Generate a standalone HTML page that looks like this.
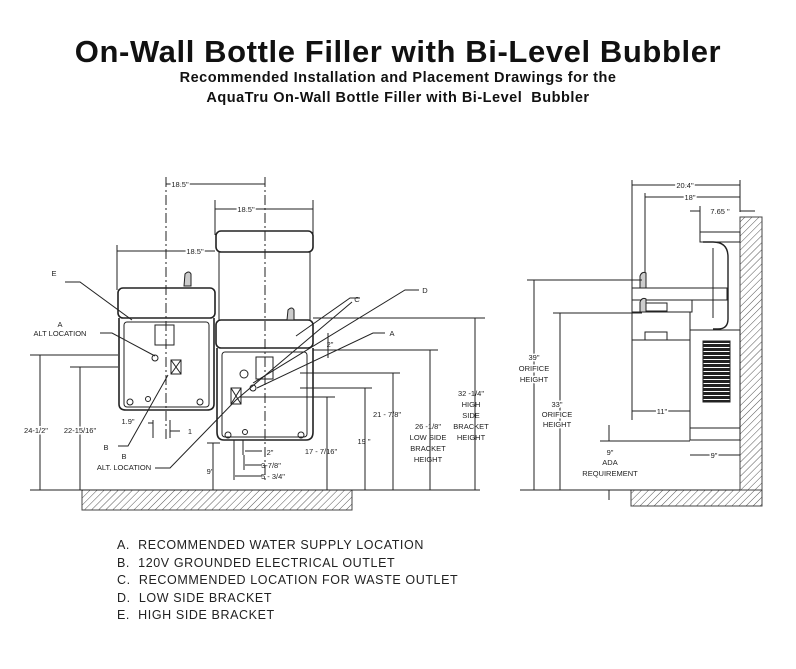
<!DOCTYPE html>
<html><head><meta charset="utf-8"><style>
html,body{margin:0;padding:0;background:#fff;}
body{width:796px;height:669px;overflow:hidden;position:relative;font-family:"Liberation Sans",sans-serif;}
.t{position:absolute;left:0;width:796px;text-align:center;font-weight:bold;color:#111;}
svg{position:absolute;left:0;top:0;}
svg text{font-family:"Liberation Sans",sans-serif;fill:#222;}
</style></head><body>
<div class="t" style="top:34px;font-size:31px;letter-spacing:0.6px;">On-Wall Bottle Filler with Bi-Level Bubbler</div>
<div class="t" style="top:70px;font-size:14.5px;letter-spacing:0.5px;">Recommended Installation and Placement Drawings for the</div>
<div class="t" style="top:90px;font-size:14.5px;letter-spacing:0.5px;">AquaTru On-Wall Bottle Filler with Bi-Level&nbsp; Bubbler</div>
<svg width="796" height="669" viewBox="0 0 796 669">
<defs>
<pattern id="h" width="5" height="5" patternUnits="userSpaceOnUse" patternTransform="rotate(45)">
<line x1="0" y1="0" x2="0" y2="5" stroke="#555" stroke-width="1"/></pattern>
<pattern id="g" width="4" height="4" patternUnits="userSpaceOnUse">
<rect width="4" height="3" fill="#222"/></pattern>
</defs>
<g stroke="#222" fill="none" stroke-width="1">
<rect x="82" y="490" width="270" height="20" fill="url(#h)" stroke="#444"/>
<line x1="30" y1="490" x2="480" y2="490"/>
<line x1="166" y1="177" x2="166" y2="440" stroke-dasharray="10,3,2,3"/>
<line x1="265" y1="177" x2="265" y2="482" stroke-dasharray="10,3,2,3"/>
<line x1="215" y1="200" x2="215" y2="235"/>
<line x1="313" y1="200" x2="313" y2="235"/>
<line x1="117" y1="245" x2="117" y2="290"/>
<line x1="166" y1="184" x2="265" y2="184"/>
<line x1="215" y1="209" x2="313" y2="209"/>
<line x1="117" y1="251" x2="215" y2="251"/>
<rect x="118" y="288" width="97" height="30" rx="5" stroke-width="1.6"/>
<path d="M119 318 V404 Q119 410 126 410 H207 Q214 410 214 404 V318" stroke-width="1.6"/>
<rect x="124" y="322" width="85" height="85" rx="3"/>
<rect x="155" y="325" width="19" height="20"/>
<path d="M185 274 q4-4 6 0 v12 h-7z" fill="#ccc"/>
<rect x="171" y="360" width="10" height="14"/><path d="M171 360 l10 14 M181 360 l-10 14"/>
<circle cx="155" cy="358" r="3"/>
<circle cx="130" cy="402" r="3"/><circle cx="200" cy="402" r="3"/><circle cx="148" cy="399" r="2.5"/>
<rect x="216" y="231" width="97" height="21" rx="5" stroke-width="1.6"/>
<line x1="219" y1="252" x2="219" y2="320"/><line x1="310" y1="252" x2="310" y2="320"/>
<rect x="216" y="320" width="97" height="28" rx="5" stroke-width="1.6"/>
<path d="M217 348 V432 Q217 440 224 440 H306 Q313 440 313 432 V348" stroke-width="1.6"/>
<rect x="222" y="352" width="85" height="85" rx="3"/>
<rect x="256" y="357" width="17" height="22"/>
<path d="M288 310 q4-4 6 0 v10 h-7z" fill="#ccc"/>
<rect x="231" y="388" width="10" height="16"/><path d="M231 388 l10 16 M241 388 l-10 16"/>
<circle cx="244" cy="374" r="4"/><circle cx="253" cy="388" r="3"/>
<circle cx="228" cy="435" r="3"/><circle cx="301" cy="435" r="3"/><circle cx="245" cy="432" r="2.5"/>
<line x1="313" y1="318" x2="485" y2="318"/>
<line x1="313" y1="350" x2="438" y2="350"/>
<line x1="300" y1="373" x2="400" y2="373"/>
<line x1="300" y1="388" x2="372" y2="388"/>
<line x1="240" y1="397" x2="335" y2="397"/>
<line x1="207" y1="443" x2="220" y2="443"/>
<line x1="30" y1="355" x2="118" y2="355"/>
<line x1="70" y1="367" x2="118" y2="367"/>
<line x1="475" y1="318" x2="475" y2="490"/>
<line x1="430" y1="350" x2="430" y2="490"/>
<line x1="393" y1="373" x2="393" y2="490"/>
<line x1="365" y1="388" x2="365" y2="490"/>
<line x1="327" y1="397" x2="327" y2="490"/>
<line x1="213" y1="443" x2="213" y2="490"/>
<line x1="328" y1="333" x2="328" y2="358"/>
<line x1="40" y1="355" x2="40" y2="490"/>
<line x1="80" y1="367" x2="80" y2="490"/>
<line x1="153" y1="420" x2="153" y2="438"/><line x1="170" y1="420" x2="170" y2="438"/>
<line x1="148" y1="423" x2="153" y2="423"/><line x1="170" y1="431" x2="180" y2="431"/>
<line x1="243" y1="440" x2="243" y2="455"/><line x1="245" y1="451" x2="262" y2="451"/>
<line x1="244" y1="455" x2="244" y2="470"/><line x1="245" y1="465" x2="262" y2="465"/>
<line x1="234" y1="440" x2="234" y2="480"/><line x1="235" y1="476" x2="262" y2="476"/>
<polyline points="65,282 80,282 132,320"/>
<polyline points="100,333 112,333 155,356"/>
<polyline points="118,446 128,446 168,375"/>
<polyline points="155,468 170,468 236,400 352,302"/>
<polyline points="360,298 350,298 296,336"/>
<polyline points="419,290 405,290 253,383"/>
<polyline points="385,333 373,333 257,388"/>
</g>
<g font-size="7.5" text-anchor="middle">
<text x="180" y="187" stroke="#fff" stroke-width="3" paint-order="stroke">18.5"</text>
<text x="246" y="212" stroke="#fff" stroke-width="3" paint-order="stroke">18.5"</text>
<text x="195" y="254" stroke="#fff" stroke-width="3" paint-order="stroke">18.5"</text>
<text x="54" y="276">E</text>
<text x="60" y="327">A</text><text x="60" y="336">ALT LOCATION</text>
<text x="106" y="450">B</text>
<text x="124" y="459">B</text><text x="124" y="470">ALT. LOCATION</text>
<text x="357" y="302">C</text>
<text x="425" y="293">D</text>
<text x="392" y="336">A</text>
<text x="330" y="347">2"</text>
<text x="128" y="424">1.9"</text><text x="190" y="434">1</text>
<text x="270" y="455">2"</text><text x="271" y="468">3-7/8"</text><text x="273" y="479">5 - 3/4"</text>
<text x="210" y="474">9"</text>
<text x="321" y="454">17 - 7/16"</text>
<text x="364" y="444">19 "</text>
<text x="387" y="417">21 - 7/8"</text>
<text x="428" y="429">26 -1/8"</text><text x="428" y="440">LOW SIDE</text><text x="428" y="451">BRACKET</text><text x="428" y="462">HEIGHT</text>
<text x="471" y="396">32 -1/4"</text><text x="471" y="407">HIGH</text><text x="471" y="418">SIDE</text><text x="471" y="429">BRACKET</text><text x="471" y="440">HEIGHT</text>
<text x="36" y="433" stroke="#fff" stroke-width="3" paint-order="stroke">24-1/2"</text>
<text x="80" y="433" stroke="#fff" stroke-width="3" paint-order="stroke">22-15/16"</text>
</g>
<g stroke="#222" fill="none" stroke-width="1">
<rect x="631" y="490" width="131" height="16" fill="url(#h)" stroke="#444"/>
<rect x="740" y="217" width="22" height="273" fill="url(#h)" stroke="#444"/>
<line x1="740" y1="490" x2="631" y2="490"/>
<line x1="632" y1="180" x2="632" y2="420"/>
<line x1="645" y1="193" x2="645" y2="280"/>
<line x1="700" y1="206" x2="700" y2="232"/>
<line x1="740" y1="180" x2="740" y2="212"/>
<line x1="632" y1="185" x2="740" y2="185"/>
<line x1="645" y1="197" x2="740" y2="197"/>
<line x1="690" y1="211" x2="700" y2="211"/><line x1="740" y1="211" x2="755" y2="211"/>
<rect x="700" y="232" width="40" height="10"/>
<path d="M703 242 h10 q15 0 15 15 v62 q0 10 -10 10 h-5" stroke-width="1.4"/>
<path d="M713 248 v70"/>
<rect x="632" y="288" width="95" height="12"/>
<rect x="632" y="300" width="60" height="12"/>
<rect x="632" y="312" width="58" height="28"/>
<rect x="645" y="303" width="22" height="8"/><rect x="645" y="332" width="22" height="8"/>
<path d="M640 288 v-12 q2-5 6-3 v15z" fill="#ccc"/>
<path d="M640 312 v-10 q2-5 6-3 v13z" fill="#ccc"/>
<rect x="690" y="330" width="50" height="110"/>
<line x1="690" y1="428" x2="740" y2="428"/>
<rect x="703" y="341" width="27" height="61" fill="url(#g)"/>
<line x1="527" y1="280" x2="642" y2="280"/>
<line x1="553" y1="313" x2="642" y2="313"/>
<line x1="534" y1="280" x2="534" y2="490"/>
<line x1="560" y1="313" x2="560" y2="490"/>
<line x1="600" y1="441" x2="690" y2="441"/>
<line x1="609" y1="425" x2="609" y2="441"/><line x1="609" y1="490" x2="609" y2="500"/>
<line x1="632" y1="411" x2="690" y2="411"/>
<line x1="690" y1="455" x2="740" y2="455"/>
<line x1="520" y1="490" x2="631" y2="490"/>
</g>
<g font-size="7.5" text-anchor="middle">
<text x="685" y="188" stroke="#fff" stroke-width="3" paint-order="stroke">20.4"</text>
<text x="690" y="200" stroke="#fff" stroke-width="3" paint-order="stroke">18"</text>
<text x="720" y="214">7.65 "</text>
<text x="534" y="360" stroke="#fff" stroke-width="3" paint-order="stroke">39"</text>
<text x="534" y="371" stroke="#fff" stroke-width="3" paint-order="stroke">ORIFICE</text>
<text x="534" y="382" stroke="#fff" stroke-width="3" paint-order="stroke">HEIGHT</text>
<text x="557" y="407" stroke="#fff" stroke-width="3" paint-order="stroke">33"</text>
<text x="557" y="417" stroke="#fff" stroke-width="3" paint-order="stroke">ORIFICE</text>
<text x="557" y="427" stroke="#fff" stroke-width="3" paint-order="stroke">HEIGHT</text>
<text x="662" y="414" stroke="#fff" stroke-width="3" paint-order="stroke">11"</text>
<text x="610" y="455">9"</text><text x="610" y="465">ADA</text><text x="610" y="476">REQUIREMENT</text>
<text x="714" y="458" stroke="#fff" stroke-width="3" paint-order="stroke">9"</text>
</g>
<g font-size="12.5" fill="#222" letter-spacing="0.6">
<text x="117" y="549">A.&#160;&#160;RECOMMENDED WATER SUPPLY LOCATION</text>
<text x="117" y="567">B.&#160;&#160;120V GROUNDED ELECTRICAL OUTLET</text>
<text x="117" y="584">C.&#160;&#160;RECOMMENDED LOCATION FOR WASTE OUTLET</text>
<text x="117" y="602">D.&#160;&#160;LOW SIDE BRACKET</text>
<text x="117" y="619">E.&#160;&#160;HIGH SIDE BRACKET</text>
</g>
</svg>
</body></html>
